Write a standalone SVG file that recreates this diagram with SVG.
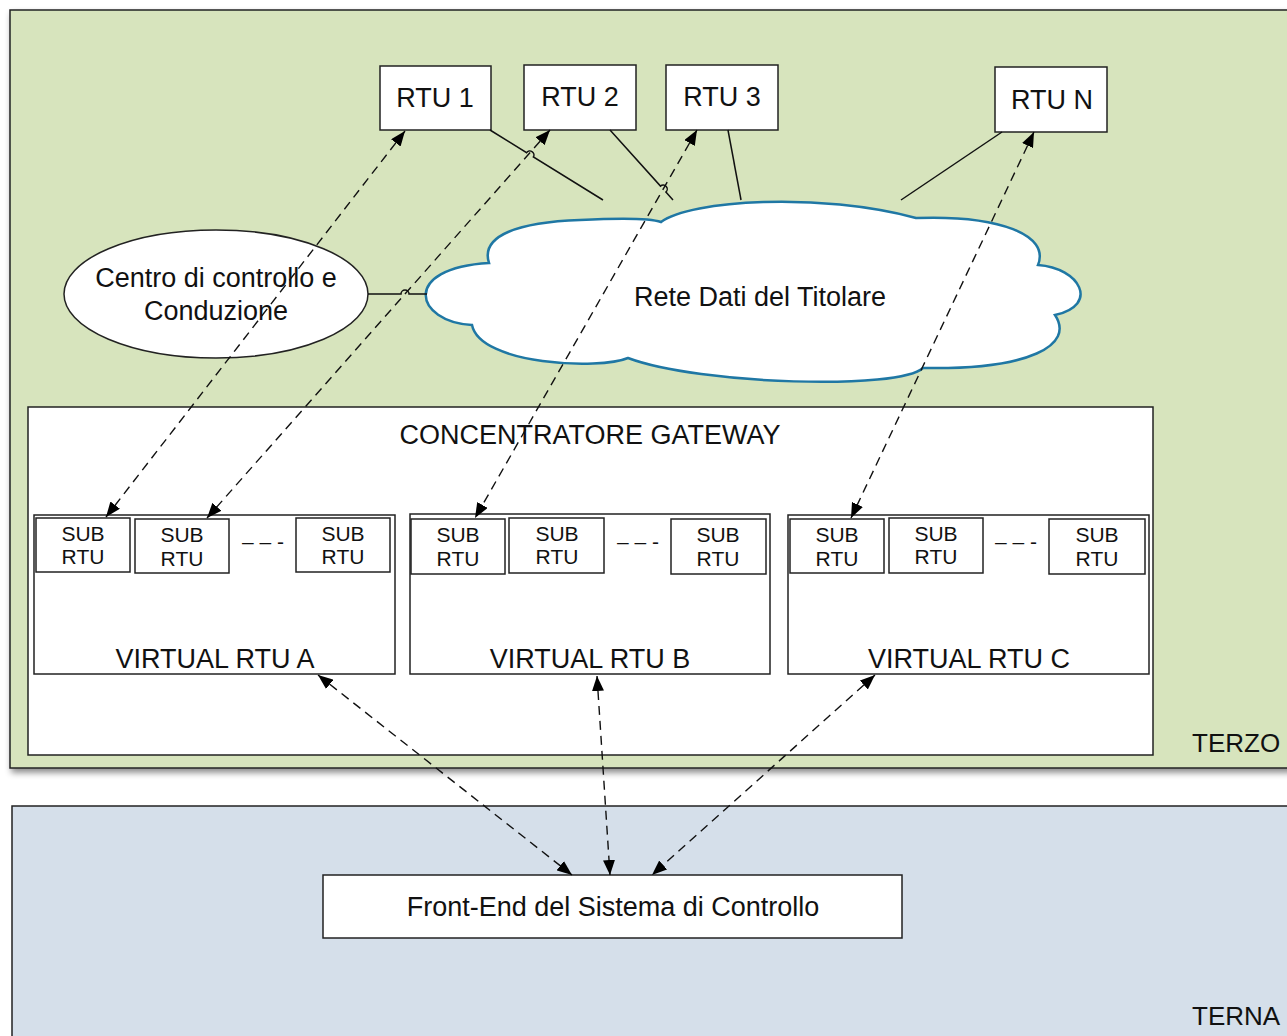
<svg xmlns="http://www.w3.org/2000/svg" width="1287" height="1036" viewBox="0 0 1287 1036">
<defs>
<filter id="sh" x="-5%" y="-5%" width="110%" height="115%">
<feDropShadow dx="2" dy="4" stdDeviation="3" flood-color="#000" flood-opacity="0.45"/>
</filter>
<marker id="ah" viewBox="0 0 15 12" refX="15" refY="6" markerWidth="15" markerHeight="12" markerUnits="userSpaceOnUse" orient="auto-start-reverse">
<path d="M0,0 L15,6 L0,12 Z" fill="#000"/>
</marker>
</defs>
<style>
.box{fill:#fff;stroke:#222;stroke-width:1.5}
.t{font-family:"Liberation Sans",Arial,sans-serif;fill:#111;text-anchor:middle}
.s{font-size:21px}
.l{fill:none;stroke:#111;stroke-width:1.5}
.d{fill:none;stroke:#111;stroke-width:1.4;stroke-dasharray:9 6;marker-start:url(#ah);marker-end:url(#ah)}
</style>
<g id="panel-terzo">
<rect x="10" y="10" width="1290" height="758" fill="#d7e4bd" stroke="#222" stroke-width="1.5" filter="url(#sh)"/>
<text class="t" x="1192" y="752" style="text-anchor:start" font-size="26">TERZO</text>
</g>
<g id="panel-terna">
<rect x="12" y="806" width="1290" height="240" fill="#d5dfea" stroke="#222" stroke-width="1.5"/>
<text class="t" x="1192" y="1025" style="text-anchor:start" font-size="26">TERNA</text>
</g>
<g id="rtu1"><rect class="box" x="380" y="66" width="111" height="64"/><text class="t" x="435" y="107" font-size="27">RTU 1</text></g>
<g id="rtu2"><rect class="box" x="524" y="65" width="112" height="65"/><text class="t" x="580" y="106" font-size="27">RTU 2</text></g>
<g id="rtu3"><rect class="box" x="666" y="65" width="112" height="65"/><text class="t" x="722" y="106" font-size="27">RTU 3</text></g>
<g id="rtun"><rect class="box" x="995" y="67" width="112" height="65"/><text class="t" x="1052" y="109" font-size="27">RTU N</text></g>
<g id="centro">
<ellipse cx="216" cy="294" rx="152" ry="64" fill="#fff" stroke="#222" stroke-width="1.5"/>
<text class="t" x="216" y="287" font-size="27">Centro di controllo e</text>
<text class="t" x="216" y="320" font-size="27">Conduzione</text>
</g>
<g id="rete">
<path d="M489,263 C480,235 520,222 580,220 C620,218 650,218 661,222 C690,200 820,192 916,218 C1000,215 1050,235 1038,265 C1080,268 1100,305 1055,315 C1075,345 1030,370 923,368 C900,390 700,385 628,358 C600,370 480,365 472,325 C415,322 400,268 489,263 Z" fill="#fff" stroke="#1f77a4" stroke-width="2.5"/>
<text class="t" x="760" y="306" font-size="27">Rete Dati del Titolare</text>
</g>
<g id="concentratore">
<rect class="box" x="28" y="407" width="1125" height="348"/>
<text class="t" x="590" y="444" font-size="27">CONCENTRATORE GATEWAY</text>
</g>
<g id="vrtu-a">
<rect class="box" x="34" y="515" width="361" height="159"/>
<text class="t" x="215" y="668" font-size="27">VIRTUAL RTU A</text>
<rect class="box" x="36" y="518" width="94" height="54"/><text class="t s" x="83" y="541">SUB</text><text class="t s" x="83" y="564">RTU</text>
<rect class="box" x="135" y="519" width="94" height="54"/><text class="t s" x="182" y="542">SUB</text><text class="t s" x="182" y="566">RTU</text>
<rect class="box" x="296" y="518" width="94" height="54"/><text class="t s" x="343" y="541">SUB</text><text class="t s" x="343" y="564">RTU</text>
<text class="t s" x="263" y="549">– – -</text>
</g>
<g id="vrtu-b">
<rect class="box" x="410" y="514" width="360" height="160"/>
<text class="t" x="590" y="668" font-size="27">VIRTUAL RTU B</text>
<rect class="box" x="411" y="519" width="94" height="55"/><text class="t s" x="458" y="542">SUB</text><text class="t s" x="458" y="566">RTU</text>
<rect class="box" x="509" y="518" width="95" height="55"/><text class="t s" x="557" y="541">SUB</text><text class="t s" x="557" y="564">RTU</text>
<rect class="box" x="671" y="519" width="95" height="55"/><text class="t s" x="718" y="542">SUB</text><text class="t s" x="718" y="566">RTU</text>
<text class="t s" x="638" y="549">– – -</text>
</g>
<g id="vrtu-c">
<rect class="box" x="788" y="515" width="361" height="159"/>
<text class="t" x="969" y="668" font-size="27">VIRTUAL RTU C</text>
<rect class="box" x="790" y="519" width="94" height="54"/><text class="t s" x="837" y="542">SUB</text><text class="t s" x="837" y="566">RTU</text>
<rect class="box" x="889" y="518" width="94" height="55"/><text class="t s" x="936" y="541">SUB</text><text class="t s" x="936" y="564">RTU</text>
<rect class="box" x="1049" y="519" width="96" height="55"/><text class="t s" x="1097" y="542">SUB</text><text class="t s" x="1097" y="566">RTU</text>
<text class="t s" x="1016" y="549">– – -</text>
</g>
<g id="frontend">
<rect class="box" x="323" y="875" width="579" height="63"/>
<text class="t" x="613" y="916" font-size="27">Front-End del Sistema di Controllo</text>
</g>
<g id="connectors">
<path class="l" d="M490,130 L526.6,152.7 A4,4 0 0 1 533.4,156.9 L603,200"/>
<path class="l" d="M610,130 L660.5,186.1 A4,4 0 0 1 665.9,192.1 L673,200"/>
<path class="l" d="M728,130 L741,200"/>
<path class="l" d="M1002,132 L901,200"/>
<path class="l" d="M368,294 L401,294 A4,4 0 0 1 409,294 L427,294"/>
<path class="d" d="M405,131 L106,517"/>
<path class="d" d="M550,130 L207,518"/>
<path class="d" d="M697,130 L475,518"/>
<path class="d" d="M1034,132 L851,518"/>
<path class="d" d="M318,675 L572,875"/>
<path class="d" d="M597,676 L610,875"/>
<path class="d" d="M875,675 L652,875"/>
</g>
</svg>
